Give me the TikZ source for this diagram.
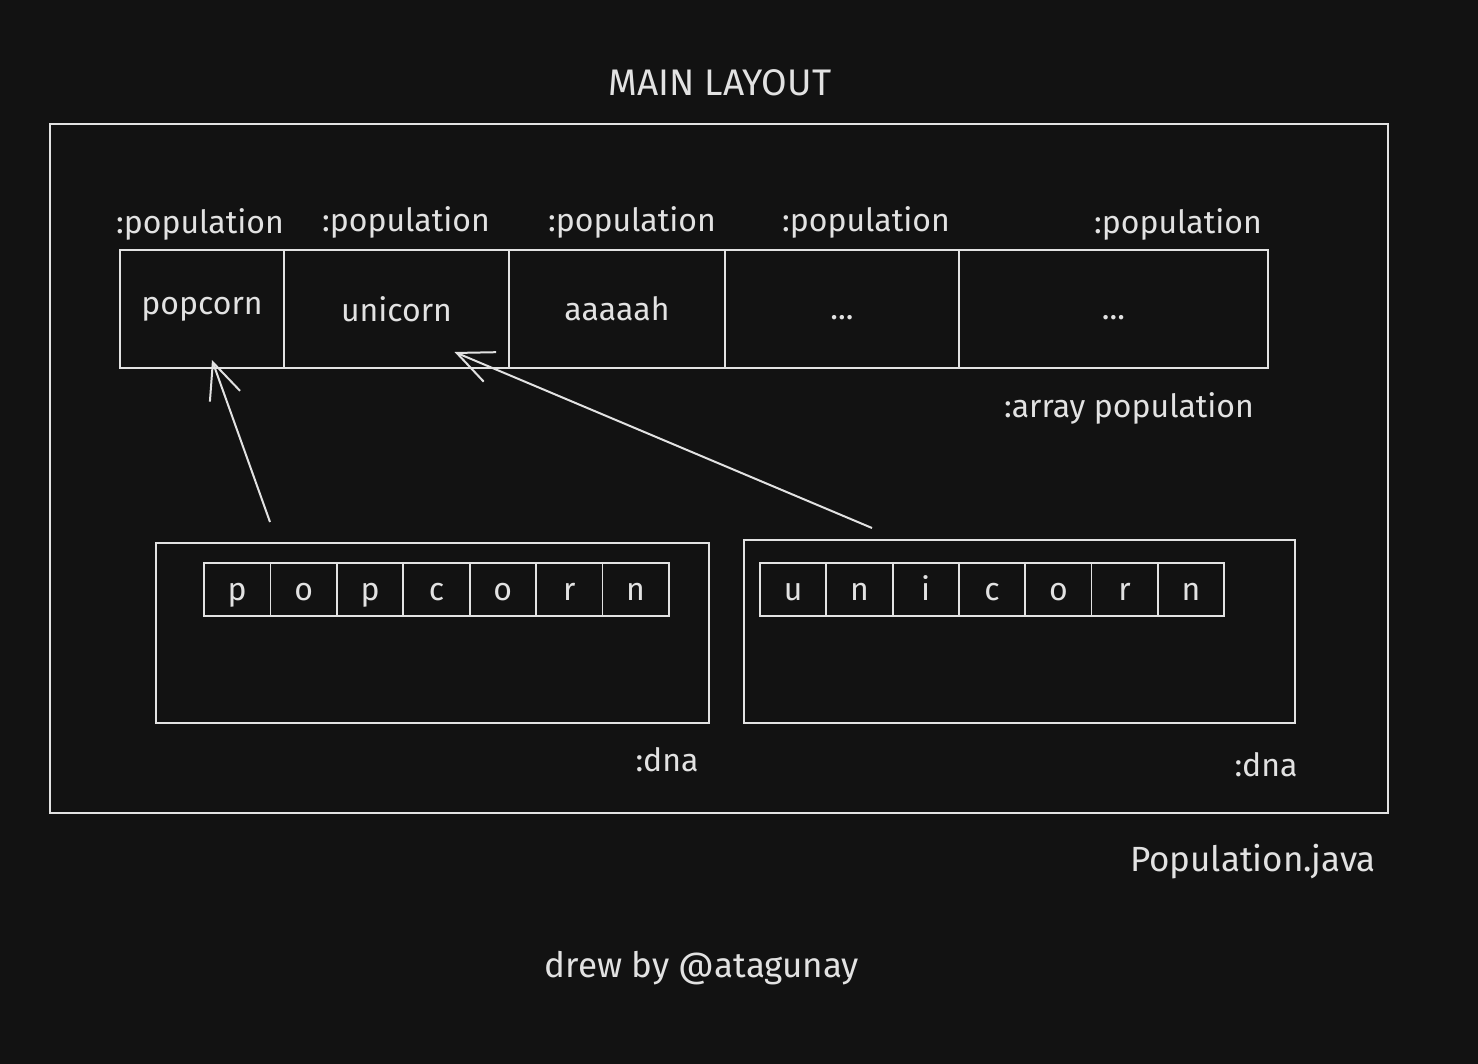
\documentclass[tikz,border=0pt]{standalone}
\usepackage{fontspec}
\setmainfont{Fira Sans}
\usepackage{xcolor}
\usepackage{tikz}
\usetikzlibrary{arrows.meta,positioning,calc}

\definecolor{bg}{HTML}{121212}
\definecolor{ink}{HTML}{E2E2E2}
\newcommand{\hand}{\fontsize{16}{19}\selectfont}

\tikzset{
    lbl/.style={text=ink, font=\hand, inner sep=1pt},
    cell/.style={draw=ink, line width=0.9pt, text=ink, font=\hand,
        minimum height=59pt, inner sep=0pt, outer sep=0pt},
    lowtext/.style={text height=11pt, text depth=0pt},
    letter/.style={draw=ink, line width=0.9pt, text=ink, font=\hand,
        minimum width=33.2pt, minimum height=26.5pt, inner sep=0pt, outer sep=0pt,
        text height=11pt, text depth=0pt},
    frame/.style={draw=ink, line width=0.9pt, inner sep=0pt, outer sep=0pt},
    ptr/.style={draw=ink, line width=1pt, -{Straight Barb[length=18pt, width=16pt, line width=1pt]}}
}

\begin{document}
\begin{tikzpicture}[x=0.5pt, y=-0.5pt]
    \fill[bg] (0,0) rectangle (1478,1064);
    \useasboundingbox (0,0) rectangle (1478,1064);

    % Title and outer frame
    \node[lbl, font=\fontsize{18.5}{22}\selectfont] (title) at (720,83) {MAIN LAYOUT};
    \node[frame, anchor=north west, minimum width=669pt, minimum height=344.5pt] (main) at (50,124) {};

    % Array of population cells
    \node[cell, anchor=north west, minimum width=82pt] (c1) at (120,250) {popcorn};
    \node[cell, minimum width=112.5pt, right=0pt of c1] (c2) {unicorn};
    \node[cell, minimum width=108pt, right=0pt of c2] (c3) {aaaaah};
    \node[cell, lowtext, minimum width=117pt, right=0pt of c3] (c4) {...};
    \node[cell, lowtext, minimum width=154.5pt, right=0pt of c4] (c5) {...};

    \node[lbl] (l1) at (200,224) {:population};
    \node[lbl] (l2) at (406,222) {:population};
    \node[lbl] (l3) at (632,222) {:population};
    \node[lbl] (l4) at (866,222) {:population};
    \node[lbl] (l5) at (1178,224) {:population};
    \node[lbl] (arr) at (1129,408) {:array population};

    % DNA boxes
    \node[frame, anchor=north west, minimum width=276.5pt, minimum height=90pt] (d1) at (156,543) {};
    \node[frame, anchor=north west, minimum width=275.5pt, minimum height=91.5pt] (d2) at (744,540) {};

    \foreach \ch [count=\i] in {p,o,p,c,o,r,n}
        \node[letter] (pa\i) at ({204+66.4*(\i-0.5)},589.5) {\ch};
    \foreach \ch [count=\i] in {u,n,i,c,o,r,n}
        \node[letter] (ua\i) at ({760+66.3*(\i-0.5)},589.5) {\ch};

    \node[lbl] (n1) at (667,760) {:dna};
    \node[lbl] (n2) at (1266,765) {:dna};

    % Pointers from dna to population cells
    \coordinate (s1) at (270,522);
    \coordinate (s2) at (872,528);
    \draw[ptr] (s1) -- ($(c1.south)+(10,-8)$);
    \draw[ptr] (s2) -- ($(c2.south)+(58,-16)$);

    % Footer
    \node[lbl, font=\fontsize{17.5}{21}\selectfont] (file) at (1253,862) {Population.java};
    \node[lbl, font=\fontsize{17.5}{21}\selectfont] (credit) at (702,968) {drew by @atagunay};
\end{tikzpicture}
\end{document}
